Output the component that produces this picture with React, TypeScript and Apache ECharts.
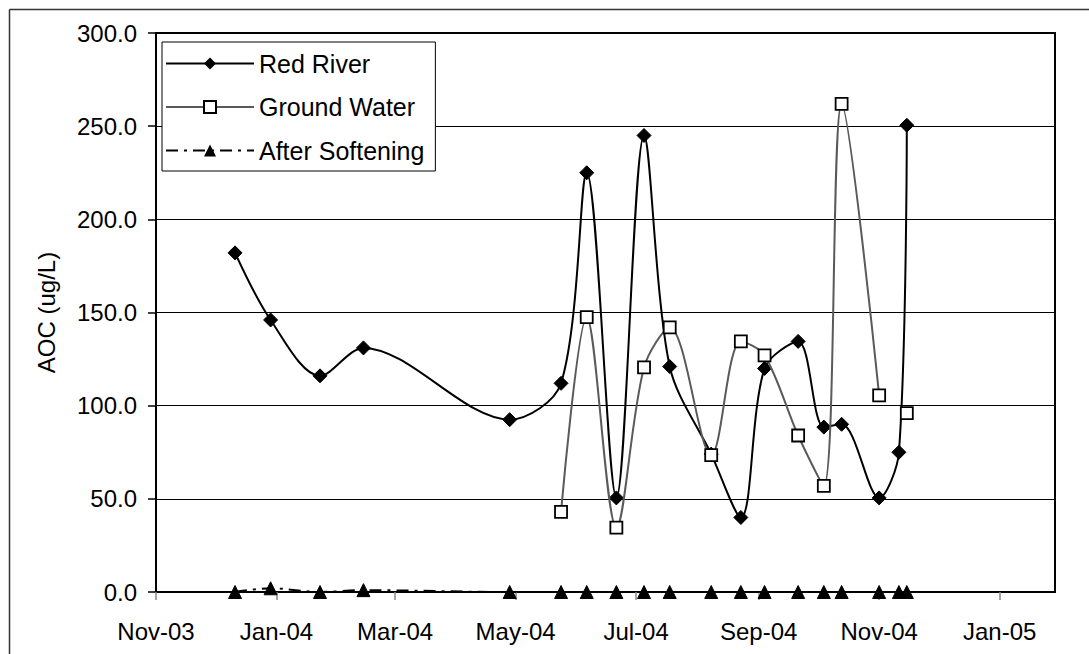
import React, { useEffect, useRef } from "react";
import * as echarts from "echarts";

// ---- Data ----
const riverDates = [
  "2003-12-11", "2003-12-29", "2004-01-23", "2004-02-14", "2004-04-28",
  "2004-05-24", "2004-06-06", "2004-06-21", "2004-07-05", "2004-07-18",
  "2004-08-08", "2004-08-23", "2004-09-04", "2004-09-21", "2004-10-04",
  "2004-10-13", "2004-11-01", "2004-11-11", "2004-11-15",
];
const redRiver = [
  182, 146, 116, 131, 92.5, 112, 225, 50.5, 245, 121,
  74, 40, 120, 134.5, 88.5, 90, 50.5, 75, 250.5,
];
const groundDates = [
  "2004-05-24", "2004-06-06", "2004-06-21", "2004-07-05", "2004-07-18",
  "2004-08-08", "2004-08-23", "2004-09-04", "2004-09-21", "2004-10-04",
  "2004-10-13", "2004-11-01", "2004-11-11", "2004-11-15",
];
// null = no sample that day (gap in the line)
const groundWater = [43, 147.5, 34.5, 120.5, 142, 73.5, 134.5, 127, 84, 57, 262, 105.5, null, 96];
const afterSoftening = [0, 2, 0, 1, 0, 0, 0, 0, 0, 0, 0, 0, 0, 0, 0, 0, 0, 0, 0];

const tickDates = [
  "2003-11-01", "2004-01-01", "2004-03-01", "2004-05-01",
  "2004-07-01", "2004-09-01", "2004-11-01", "2005-01-01",
];
const tickLabels = ["Nov-03", "Jan-04", "Mar-04", "May-04", "Jul-04", "Sep-04", "Nov-04", "Jan-05"];
const axisStart = "2003-11-01";
const axisEnd = "2005-01-29";
const yTicks = { min: 0, max: 300, step: 50 };

const FONT = "'Liberation Sans', Arial, sans-serif";

// day number (days since 1970-01-01, UTC) of a YYYY-MM-DD string
function dayNum(s: string): number {
  const [y, m, d] = s.split("-").map(Number);
  return Math.round(Date.UTC(y, m - 1, d) / 86400000);
}

export default function App() {
  const ref = useRef<HTMLDivElement>(null);

  useEffect(() => {
    if (!ref.current) return;
    const chart = echarts.init(ref.current, undefined, { renderer: "svg" });
    const tickValues = tickDates.map(dayNum);

    const option: any = {
      animation: false,
      backgroundColor: "#ffffff",
      textStyle: { fontFamily: FONT, color: "#000" },
      graphic: [
        {
          type: "line",
          shape: { x1: 9.5, y1: 9.5, x2: 1089, y2: 9.5 },
          style: { stroke: "#333", lineWidth: 1.5 },
          silent: true,
        },
        {
          type: "line",
          shape: { x1: 9.5, y1: 9.5, x2: 9.5, y2: 654 },
          style: { stroke: "#333", lineWidth: 1.5 },
          silent: true,
        },
      ],
      grid: {
        left: 156,
        top: 33,
        right: 34,
        bottom: 62,
        show: true,
        borderColor: "#000",
        borderWidth: 2,
        backgroundColor: "transparent",
      },
      legend: {
        left: 162,
        top: 42,
        orient: "vertical",
        backgroundColor: "#fff",
        borderColor: "#000",
        borderWidth: 1,
        padding: [9, 11, 8, 3],
        itemWidth: 88,
        itemHeight: 15,
        itemGap: 18.5,
        textStyle: { fontSize: 25, fontFamily: FONT, color: "#000" },
        data: ["Red River", "Ground Water", "After Softening"],
      },
      xAxis: {
        type: "value",
        min: dayNum(axisStart),
        max: dayNum(axisEnd),
        axisLine: { show: true, onZero: false, lineStyle: { color: "#000", width: 2 } },
        axisTick: {
          show: true,
          customValues: tickValues,
          length: 8,
          lineStyle: { color: "#888", width: 1.5 },
        },
        axisLabel: {
          customValues: tickValues,
          fontSize: 24,
          fontFamily: FONT,
          color: "#000",
          margin: 27,
          hideOverlap: false,
          showMinLabel: true,
          showMaxLabel: true,
          formatter: (v: number) => {
            const i = tickValues.indexOf(v);
            return i >= 0 ? tickLabels[i] : "";
          },
        },
        splitLine: { show: false },
      },
      yAxis: {
        type: "value",
        min: yTicks.min,
        max: yTicks.max,
        interval: yTicks.step,
        name: "AOC (ug/L)",
        nameLocation: "middle",
        nameGap: 98,
        nameTextStyle: { fontSize: 24, fontFamily: FONT, color: "#000" },
        axisLine: { show: true, lineStyle: { color: "#000", width: 2 } },
        axisTick: { show: true, length: 8, lineStyle: { color: "#000", width: 1.5 } },
        axisLabel: {
          fontSize: 24,
          fontFamily: FONT,
          color: "#000",
          margin: 19,
          formatter: (v: number) => v.toFixed(1),
        },
        splitLine: { show: true, lineStyle: { color: "#000", width: 1 } },
      },
      series: [
        {
          name: "Red River",
          type: "line",
          smooth: 0.32,
          data: riverDates.map((d, i) => [dayNum(d), redRiver[i]]),
          symbol: "diamond",
          symbolSize: 14,
          lineStyle: { color: "#000", width: 2 },
          itemStyle: { color: "#000", borderColor: "#000" },
          z: 2,
        },
        {
          name: "Ground Water",
          type: "line",
          smooth: 0.32,
          connectNulls: false,
          data: groundDates.map((d, i) => [dayNum(d), groundWater[i]]),
          symbol: "rect",
          symbolSize: 12,
          lineStyle: { color: "#5a5a5a", width: 2 },
          itemStyle: { color: "#fff", borderColor: "#000", borderWidth: 1.8 },
          z: 3,
        },
        {
          name: "After Softening",
          type: "line",
          smooth: 0.32,
          data: riverDates.map((d, i) => [dayNum(d), afterSoftening[i]]),
          symbol: "triangle",
          symbolSize: 13,
          lineStyle: { color: "#000", width: 2, type: [12, 6, 3, 6] },
          itemStyle: { color: "#000", borderColor: "#000" },
          z: 4,
        },
      ],
    };

    chart.setOption(option);
    return () => chart.dispose();
  }, []);

  return (
    <div
      ref={ref}
      style={{ position: "fixed", left: 0, top: 0, width: 1089, height: 654 }}
    />
  );
}
